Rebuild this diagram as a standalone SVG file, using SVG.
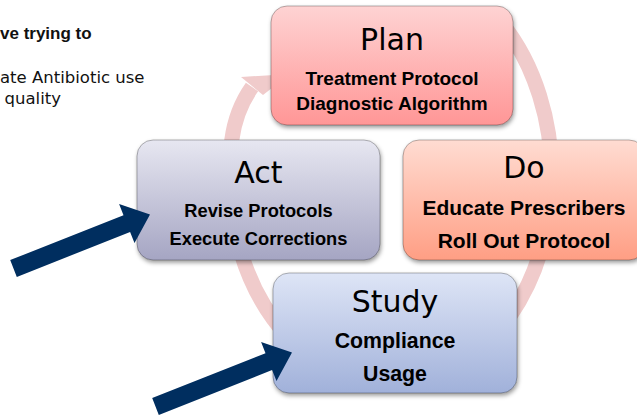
<svg xmlns="http://www.w3.org/2000/svg" width="637" height="417" viewBox="0 0 637 417">
  <defs>
    <linearGradient id="gPlan" x1="0" y1="0" x2="0" y2="1">
      <stop offset="0" stop-color="#FED3D3"/>
      <stop offset="1" stop-color="#FF9696"/>
    </linearGradient>
    <linearGradient id="gDo" x1="0" y1="0" x2="0" y2="1">
      <stop offset="0" stop-color="#FFDCD2"/>
      <stop offset="1" stop-color="#FF9E84"/>
    </linearGradient>
    <linearGradient id="gAct" x1="0" y1="0" x2="0" y2="1">
      <stop offset="0" stop-color="#E7E7F1"/>
      <stop offset="1" stop-color="#A5A5C3"/>
    </linearGradient>
    <linearGradient id="gStudy" x1="0" y1="0" x2="0" y2="1">
      <stop offset="0" stop-color="#DEE5F6"/>
      <stop offset="1" stop-color="#A1B1DA"/>
    </linearGradient>
    <filter id="shadow" x="-10%" y="-10%" width="130%" height="140%">
      <feDropShadow dx="1" dy="2.5" stdDeviation="2" flood-color="#000" flood-opacity="0.4"/>
    </filter>
    <!-- thick block arrow pointing up-right -->
    <path id="pointer" d="M10.2,260.1 L123.5,215.2 L119.1,204.1 L150,214.4 L134.5,243.1 L130.1,232 L16.8,276.9 Z"/>
  </defs>
  <style>
    .box { stroke: #000; stroke-opacity: 0.28; stroke-width: 1; filter: url(#shadow); }
    .title { font-family: "DejaVu Sans", sans-serif; font-size: 30px; text-anchor: middle; fill: #000; }
    .sub { font-family: "Liberation Sans", Arial, sans-serif; font-weight: bold; text-anchor: middle; fill: #000; }
    .cycle { fill: none; stroke: #F0CBCB; stroke-width: 15; }
    .cycle-head { fill: #F0CBCB; }
    .pointer { fill: #002E5F; }
    .intro { font-family: "DejaVu Sans", sans-serif; font-size: 16.5px; fill: #111; }
    .intro-b { font-family: "Liberation Sans", Arial, sans-serif; font-weight: bold; font-size: 17px; fill: #111; }
  </style>

  <!-- partial slide text -->
  <g id="intro">
    <text class="intro-b" x="0" y="39">ve trying to</text>
    <text class="intro" x="0" y="83">ate Antibiotic use</text>
    <text class="intro" x="4.5" y="104">quality</text>
  </g>

  <!-- cycle arrow behind the boxes -->
  <g id="connectors">
    <path class="cycle" d="M494.0,14.1 A161,210 0 1,1 231.8,140 Q235.7,110 252,87"/>
    <polygon class="cycle-head" points="241,77 290,74 263,95"/>
  </g>

  <g id="plan">
    <rect class="box" x="271" y="6" width="242" height="119" rx="16" fill="url(#gPlan)"/>
    <text class="title" x="392" y="50">Plan</text>
    <text class="sub" x="392" y="85" font-size="19">Treatment Protocol</text>
    <text class="sub" x="392" y="110" font-size="19">Diagnostic Algorithm</text>
  </g>

  <g id="do">
    <rect class="box" x="403" y="140" width="242" height="120" rx="16" fill="url(#gDo)"/>
    <text class="title" x="524" y="178" font-size="31">Do</text>
    <text class="sub" x="524" y="215" font-size="21">Educate Prescribers</text>
    <text class="sub" x="524" y="248" font-size="21">Roll Out Protocol</text>
  </g>

  <g id="act">
    <rect class="box" x="137" y="140" width="243" height="120" rx="16" fill="url(#gAct)"/>
    <text class="title" x="258.5" y="183">Act</text>
    <text class="sub" x="258.5" y="217" font-size="18.3">Revise Protocols</text>
    <text class="sub" x="258.5" y="245" font-size="18.3">Execute Corrections</text>
  </g>

  <g id="study">
    <rect class="box" x="273" y="273" width="244" height="120" rx="16" fill="url(#gStudy)"/>
    <text class="title" x="395" y="312" font-size="29">Study</text>
    <text class="sub" x="395" y="348" font-size="21.3">Compliance</text>
    <text class="sub" x="395" y="381" font-size="21.3">Usage</text>
  </g>

  <g id="pointers">
    <use href="#pointer" class="pointer"/>
    <use href="#pointer" class="pointer" transform="translate(142,138)"/>
  </g>
</svg>
